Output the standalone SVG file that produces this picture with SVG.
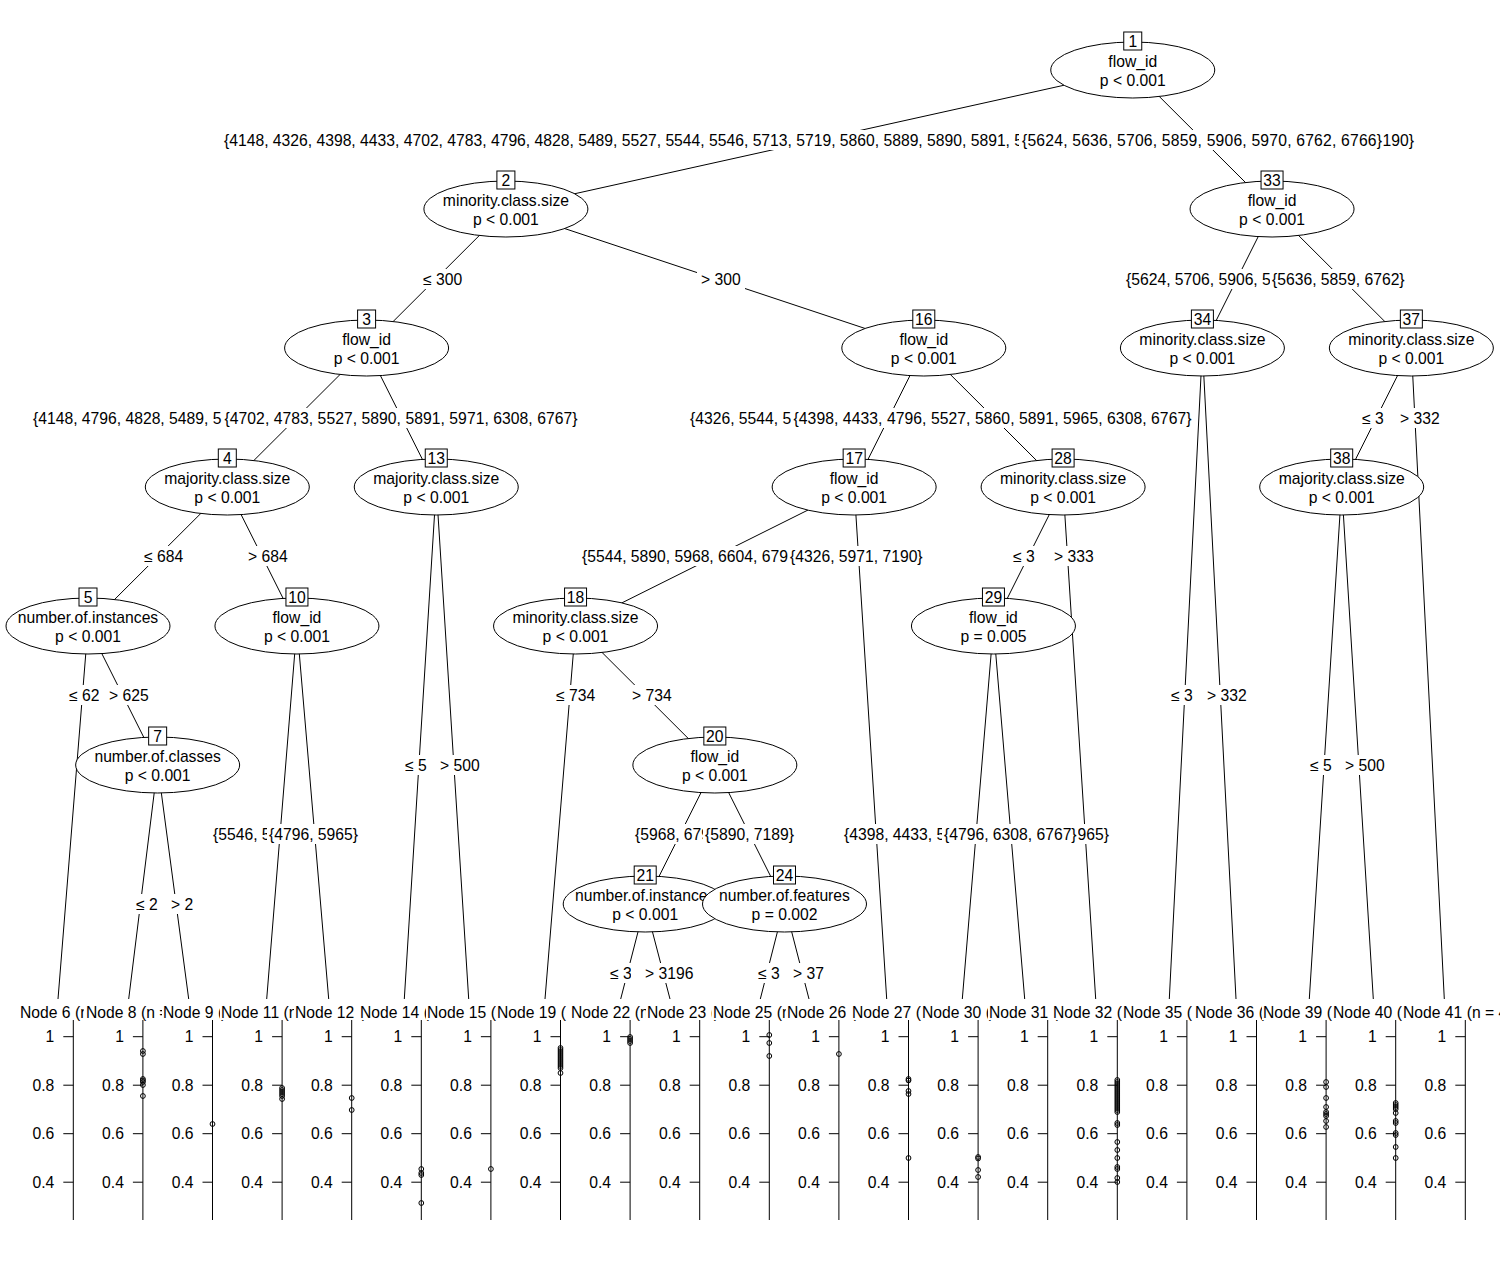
<svg xmlns="http://www.w3.org/2000/svg" width="1500" height="1269" viewBox="0 0 1500 1269">
<style>
text{font-family:"Liberation Sans",Arial,sans-serif;font-size:15.7px;fill:#000}
.m{text-anchor:middle}
.e{text-anchor:end}
#connectors line{stroke:#000;stroke-width:1}
.ax{stroke:#000;stroke-width:1;fill:none}
ellipse{fill:#fff;stroke:#000;stroke-width:1}
.nb{fill:#fff;stroke:#000;stroke-width:1}
.lb{fill:#fff;stroke:none}
.pt{fill:none;stroke:#000;stroke-width:1}
</style>
<rect width="1500" height="1269" fill="#fff"/>
<g id="connectors">
<line x1="1132.75" y1="70" x2="505.9" y2="209"/>
<line x1="1132.75" y1="70" x2="1272.05" y2="209"/>
<line x1="505.9" y1="209" x2="366.6" y2="348"/>
<line x1="505.9" y1="209" x2="923.8" y2="348"/>
<line x1="1272.05" y1="209" x2="1202.4" y2="348"/>
<line x1="1272.05" y1="209" x2="1411.35" y2="348"/>
<line x1="366.6" y1="348" x2="227.3" y2="487"/>
<line x1="366.6" y1="348" x2="436.25" y2="487"/>
<line x1="923.8" y1="348" x2="854.15" y2="487"/>
<line x1="923.8" y1="348" x2="1063.1" y2="487"/>
<line x1="1202.4" y1="348" x2="1169.3" y2="999"/>
<line x1="1202.4" y1="348" x2="1236" y2="999"/>
<line x1="1411.35" y1="348" x2="1341.7" y2="487"/>
<line x1="1411.35" y1="348" x2="1444.3" y2="999"/>
<line x1="227.3" y1="487" x2="88" y2="626"/>
<line x1="227.3" y1="487" x2="296.95" y2="626"/>
<line x1="436.25" y1="487" x2="404.3" y2="999"/>
<line x1="436.25" y1="487" x2="468.7" y2="999"/>
<line x1="854.15" y1="487" x2="575.55" y2="626"/>
<line x1="854.15" y1="487" x2="886.7" y2="999"/>
<line x1="1063.1" y1="487" x2="993.45" y2="626"/>
<line x1="1063.1" y1="487" x2="1095.7" y2="999"/>
<line x1="1341.7" y1="487" x2="1309.3" y2="999"/>
<line x1="1341.7" y1="487" x2="1373.3" y2="999"/>
<line x1="88" y1="626" x2="58" y2="999"/>
<line x1="88" y1="626" x2="157.65" y2="765"/>
<line x1="296.95" y1="626" x2="266.7" y2="999"/>
<line x1="296.95" y1="626" x2="328.7" y2="999"/>
<line x1="575.55" y1="626" x2="545" y2="999"/>
<line x1="575.55" y1="626" x2="714.85" y2="765"/>
<line x1="993.45" y1="626" x2="962.3" y2="999"/>
<line x1="993.45" y1="626" x2="1024.7" y2="999"/>
<line x1="157.65" y1="765" x2="128.7" y2="999"/>
<line x1="157.65" y1="765" x2="188.7" y2="999"/>
<line x1="714.85" y1="765" x2="645.2" y2="904"/>
<line x1="714.85" y1="765" x2="784.5" y2="904"/>
<line x1="645.2" y1="904" x2="620.7" y2="999"/>
<line x1="645.2" y1="904" x2="670" y2="999"/>
<line x1="784.5" y1="904" x2="760.3" y2="999"/>
<line x1="784.5" y1="904" x2="809" y2="999"/>
</g>
<g id="edge-labels">
<g id="e1"><rect class="lb" x="222" y="130" width="1194" height="20"/><text x="224" y="145.5">{4148, 4326, 4398, 4433, 4702, 4783, 4796, 4828, 5489, 5527, 5544, 5546, 5713, 5719, 5860, 5889, 5890, 5891, 5</text><text class="e" x="1414" y="145.5">190}</text>
<rect class="lb" x="1019" y="130" width="364" height="20"/><text class="m" x="1202" y="145.5" textLength="360">{5624, 5636, 5706, 5859, 5906, 5970, 6762, 6766}</text></g>
<g id="e2"><rect class="lb" x="419" y="269" width="47" height="20"/><text x="423" y="284.5">≤ 300</text><rect class="lb" x="697" y="269" width="48" height="20"/><text x="701" y="284.5">&gt; 300</text></g>
<g id="e3"><rect class="lb" x="31" y="408" width="193" height="20"/><text x="33" y="423.5">{4148, 4796, 4828, 5489, 5</text><rect class="lb" x="222" y="408" width="358" height="20"/><text class="m" x="401" y="423.5" textLength="353">{4702, 4783, 5527, 5890, 5891, 5971, 6308, 6767}</text></g>
<g id="e16"><rect class="lb" x="688" y="408" width="105" height="20"/><text x="690" y="423.5">{4326, 5544, 5</text><rect class="lb" x="791" y="408" width="403" height="20"/><text class="m" x="992.5" y="423.5" textLength="398">{4398, 4433, 4796, 5527, 5860, 5891, 5965, 6308, 6767}</text></g>
<g id="e33"><rect class="lb" x="1124" y="269" width="148" height="20"/><text x="1126" y="284.5">{5624, 5706, 5906, 5</text><rect class="lb" x="1270" y="269" width="140" height="20"/><text x="1272" y="284.5">{5636, 5859, 6762}</text></g>
<g id="e37"><rect class="lb" x="1358" y="408" width="28" height="20"/><text x="1362" y="423.5">≤ 3</text><rect class="lb" x="1386" y="408" width="58" height="20"/><text x="1400" y="423.5">&gt; 332</text></g>
<g id="e4"><rect class="lb" x="140" y="546" width="48" height="20"/><text x="144" y="561.5">≤ 684</text><rect class="lb" x="244" y="546" width="48" height="20"/><text x="248" y="561.5">&gt; 684</text></g>
<g id="e17"><rect class="lb" x="580" y="546" width="210" height="20"/><text x="582" y="561.5">{5544, 5890, 5968, 6604, 679</text><rect class="lb" x="788" y="546" width="139" height="20"/><text x="790" y="561.5">{4326, 5971, 7190}</text></g>
<g id="e28"><rect class="lb" x="1009" y="546" width="28" height="20"/><text x="1013" y="561.5">≤ 3</text><rect class="lb" x="1037" y="546" width="60" height="20"/><text x="1054" y="561.5">&gt; 333</text></g>
<g id="e5"><rect class="lb" x="65" y="685" width="34" height="20"/><text x="69" y="700.5">≤ 62</text><rect class="lb" x="99" y="685" width="54" height="20"/><text x="109" y="700.5">&gt; 625</text></g>
<g id="e18"><rect class="lb" x="552" y="685" width="48" height="20"/><text x="556" y="700.5">≤ 734</text><rect class="lb" x="628" y="685" width="47" height="20"/><text x="632" y="700.5">&gt; 734</text></g>
<g id="e34"><rect class="lb" x="1167" y="685" width="27" height="20"/><text x="1171" y="700.5">≤ 3</text><rect class="lb" x="1194" y="685" width="55" height="20"/><text x="1207" y="700.5">&gt; 332</text></g>
<g id="e13"><rect class="lb" x="401" y="755" width="27" height="20"/><text x="405" y="770.5">≤ 5</text><rect class="lb" x="428" y="755" width="56" height="20"/><text x="440" y="770.5">&gt; 500</text></g>
<g id="e38"><rect class="lb" x="1306" y="755" width="27" height="20"/><text x="1310" y="770.5">≤ 5</text><rect class="lb" x="1333" y="755" width="56" height="20"/><text x="1345" y="770.5">&gt; 500</text></g>
<g id="e10"><rect class="lb" x="211" y="824" width="58" height="20"/><text x="213" y="839.5">{5546, 5</text><rect class="lb" x="267" y="824" width="95" height="20"/><text x="269" y="839.5">{4796, 5965}</text></g>
<g id="e20"><rect class="lb" x="633" y="824" width="72" height="20"/><text x="635" y="839.5">{5968, 679</text><rect class="lb" x="703" y="824" width="96" height="20"/><text x="705" y="839.5">{5890, 7189}</text></g>
<g id="e29"><rect class="lb" x="842" y="824" width="269" height="20"/><text x="844" y="839.5">{4398, 4433, 5</text><text class="e" x="1109" y="839.5">965}</text><rect class="lb" x="942" y="824" width="136" height="20"/><text x="944" y="839.5">{4796, 6308, 6767}</text></g>
<g id="e7"><rect class="lb" x="132" y="894" width="30" height="20"/><text x="136" y="909.5">≤ 2</text><rect class="lb" x="162" y="894" width="35" height="20"/><text x="171" y="909.5">&gt; 2</text></g>
<g id="e21"><rect class="lb" x="606" y="963" width="25" height="20"/><text x="610" y="978.5">≤ 3</text><rect class="lb" x="631" y="963" width="66" height="20"/><text x="645" y="978.5">&gt; 3196</text></g>
<g id="e24"><rect class="lb" x="754" y="963" width="26" height="20"/><text x="758" y="978.5">≤ 3</text><rect class="lb" x="780" y="963" width="46" height="20"/><text x="793" y="978.5">&gt; 37</text></g>
</g>
<g id="nodes">
<g id="n1"><ellipse cx="1132.75" cy="70" rx="82" ry="28"/><rect class="nb" x="1123.75" y="32" width="18" height="18"/><text class="m" x="1132.75" y="46.5">1</text><text class="m" x="1132.75" y="66.5">flow_id</text><text class="m" x="1132.75" y="85.5">p &lt; 0.001</text></g>
<g id="n2"><ellipse cx="505.9" cy="209" rx="82" ry="28"/><rect class="nb" x="496.9" y="171" width="18" height="18"/><text class="m" x="505.9" y="185.5">2</text><text class="m" x="505.9" y="205.5">minority.class.size</text><text class="m" x="505.9" y="224.5">p &lt; 0.001</text></g>
<g id="n3"><ellipse cx="366.6" cy="348" rx="82" ry="28"/><rect class="nb" x="357.6" y="310" width="18" height="18"/><text class="m" x="366.6" y="324.5">3</text><text class="m" x="366.6" y="344.5">flow_id</text><text class="m" x="366.6" y="363.5">p &lt; 0.001</text></g>
<g id="n4"><ellipse cx="227.3" cy="487" rx="82" ry="28"/><rect class="nb" x="218.3" y="449" width="18" height="18"/><text class="m" x="227.3" y="463.5">4</text><text class="m" x="227.3" y="483.5">majority.class.size</text><text class="m" x="227.3" y="502.5">p &lt; 0.001</text></g>
<g id="n5"><ellipse cx="88" cy="626" rx="82" ry="28"/><rect class="nb" x="79" y="588" width="18" height="18"/><text class="m" x="88" y="602.5">5</text><text class="m" x="88" y="622.5">number.of.instances</text><text class="m" x="88" y="641.5">p &lt; 0.001</text></g>
<g id="n7"><ellipse cx="157.65" cy="765" rx="82" ry="28"/><rect class="nb" x="148.65" y="727" width="18" height="18"/><text class="m" x="157.65" y="741.5">7</text><text class="m" x="157.65" y="761.5">number.of.classes</text><text class="m" x="157.65" y="780.5">p &lt; 0.001</text></g>
<g id="n10"><ellipse cx="296.95" cy="626" rx="82" ry="28"/><rect class="nb" x="285.95" y="588" width="22" height="18"/><text class="m" x="296.95" y="602.5">10</text><text class="m" x="296.95" y="622.5">flow_id</text><text class="m" x="296.95" y="641.5">p &lt; 0.001</text></g>
<g id="n13"><ellipse cx="436.25" cy="487" rx="82" ry="28"/><rect class="nb" x="425.25" y="449" width="22" height="18"/><text class="m" x="436.25" y="463.5">13</text><text class="m" x="436.25" y="483.5">majority.class.size</text><text class="m" x="436.25" y="502.5">p &lt; 0.001</text></g>
<g id="n16"><ellipse cx="923.8" cy="348" rx="82" ry="28"/><rect class="nb" x="912.8" y="310" width="22" height="18"/><text class="m" x="923.8" y="324.5">16</text><text class="m" x="923.8" y="344.5">flow_id</text><text class="m" x="923.8" y="363.5">p &lt; 0.001</text></g>
<g id="n17"><ellipse cx="854.15" cy="487" rx="82" ry="28"/><rect class="nb" x="843.15" y="449" width="22" height="18"/><text class="m" x="854.15" y="463.5">17</text><text class="m" x="854.15" y="483.5">flow_id</text><text class="m" x="854.15" y="502.5">p &lt; 0.001</text></g>
<g id="n18"><ellipse cx="575.55" cy="626" rx="82" ry="28"/><rect class="nb" x="564.55" y="588" width="22" height="18"/><text class="m" x="575.55" y="602.5">18</text><text class="m" x="575.55" y="622.5">minority.class.size</text><text class="m" x="575.55" y="641.5">p &lt; 0.001</text></g>
<g id="n20"><ellipse cx="714.85" cy="765" rx="82" ry="28"/><rect class="nb" x="703.85" y="727" width="22" height="18"/><text class="m" x="714.85" y="741.5">20</text><text class="m" x="714.85" y="761.5">flow_id</text><text class="m" x="714.85" y="780.5">p &lt; 0.001</text></g>
<g id="n21"><ellipse cx="645.2" cy="904" rx="82" ry="28"/><rect class="nb" x="634.2" y="866" width="22" height="18"/><text class="m" x="645.2" y="880.5">21</text><text x="575" y="900.5">number.of.instance</text><text class="m" x="645.2" y="919.5">p &lt; 0.001</text></g>
<g id="n24"><ellipse cx="784.5" cy="904" rx="82" ry="28"/><rect class="nb" x="773.5" y="866" width="22" height="18"/><text class="m" x="784.5" y="880.5">24</text><text class="m" x="784.5" y="900.5">number.of.features</text><text class="m" x="784.5" y="919.5">p = 0.002</text></g>
<g id="n28"><ellipse cx="1063.1" cy="487" rx="82" ry="28"/><rect class="nb" x="1052.1" y="449" width="22" height="18"/><text class="m" x="1063.1" y="463.5">28</text><text class="m" x="1063.1" y="483.5">minority.class.size</text><text class="m" x="1063.1" y="502.5">p &lt; 0.001</text></g>
<g id="n29"><ellipse cx="993.45" cy="626" rx="82" ry="28"/><rect class="nb" x="982.45" y="588" width="22" height="18"/><text class="m" x="993.45" y="602.5">29</text><text class="m" x="993.45" y="622.5">flow_id</text><text class="m" x="993.45" y="641.5">p = 0.005</text></g>
<g id="n33"><ellipse cx="1272.05" cy="209" rx="82" ry="28"/><rect class="nb" x="1261.05" y="171" width="22" height="18"/><text class="m" x="1272.05" y="185.5">33</text><text class="m" x="1272.05" y="205.5">flow_id</text><text class="m" x="1272.05" y="224.5">p &lt; 0.001</text></g>
<g id="n34"><ellipse cx="1202.4" cy="348" rx="82" ry="28"/><rect class="nb" x="1191.4" y="310" width="22" height="18"/><text class="m" x="1202.4" y="324.5">34</text><text class="m" x="1202.4" y="344.5">minority.class.size</text><text class="m" x="1202.4" y="363.5">p &lt; 0.001</text></g>
<g id="n37"><ellipse cx="1411.35" cy="348" rx="82" ry="28"/><rect class="nb" x="1400.35" y="310" width="22" height="18"/><text class="m" x="1411.35" y="324.5">37</text><text class="m" x="1411.35" y="344.5">minority.class.size</text><text class="m" x="1411.35" y="363.5">p &lt; 0.001</text></g>
<g id="n38"><ellipse cx="1341.7" cy="487" rx="82" ry="28"/><rect class="nb" x="1330.7" y="449" width="22" height="18"/><text class="m" x="1341.7" y="463.5">38</text><text class="m" x="1341.7" y="483.5">majority.class.size</text><text class="m" x="1341.7" y="502.5">p &lt; 0.001</text></g>
</g>
<g id="terminals">
<g id="t6"><rect class="lb" x="19" y="1002" width="140" height="18"/><text x="20" y="1017.5">Node 6 (n</text><path class="ax" d="M73.3 1020V1220M63.3 1036.7H73.3M63.3 1085.2H73.3M63.3 1133.7H73.3M63.3 1182.2H73.3"/><text class="e" x="54.3" y="1042.3">1</text><text class="e" x="54.3" y="1090.8">0.8</text><text class="e" x="54.3" y="1139.3">0.6</text><text class="e" x="54.3" y="1187.8">0.4</text></g>
<g id="t8"><rect class="lb" x="84" y="1002" width="140" height="18"/><text x="86" y="1017.5">Node 8 (n =</text><path class="ax" d="M142.9 1020V1220M132.9 1036.7H142.9M132.9 1085.2H142.9M132.9 1133.7H142.9M132.9 1182.2H142.9"/><text class="e" x="123.9" y="1042.3">1</text><text class="e" x="123.9" y="1090.8">0.8</text><text class="e" x="123.9" y="1139.3">0.6</text><text class="e" x="123.9" y="1187.8">0.4</text>
<circle class="pt" cx="142.9" cy="1051" r="2.4"/><circle class="pt" cx="142.9" cy="1054" r="2.4"/><circle class="pt" cx="142.9" cy="1079" r="2.4"/><circle class="pt" cx="142.9" cy="1080.5" r="2.4"/><circle class="pt" cx="142.9" cy="1082" r="2.4"/><circle class="pt" cx="142.9" cy="1085" r="2.4"/><circle class="pt" cx="142.9" cy="1096" r="2.4"/></g>
<g id="t9"><rect class="lb" x="162" y="1002" width="140" height="18"/><text x="163" y="1017.5">Node 9 (</text><path class="ax" d="M212.5 1020V1220M202.5 1036.7H212.5M202.5 1085.2H212.5M202.5 1133.7H212.5M202.5 1182.2H212.5"/><text class="e" x="193.5" y="1042.3">1</text><text class="e" x="193.5" y="1090.8">0.8</text><text class="e" x="193.5" y="1139.3">0.6</text><text class="e" x="193.5" y="1187.8">0.4</text>
<circle class="pt" cx="212.5" cy="1124" r="2.4"/></g>
<g id="t11"><rect class="lb" x="220" y="1002" width="140" height="18"/><text x="221" y="1017.5">Node 11 (n</text><path class="ax" d="M282.1 1020V1220M272.1 1036.7H282.1M272.1 1085.2H282.1M272.1 1133.7H282.1M272.1 1182.2H282.1"/><text class="e" x="263.1" y="1042.3">1</text><text class="e" x="263.1" y="1090.8">0.8</text><text class="e" x="263.1" y="1139.3">0.6</text><text class="e" x="263.1" y="1187.8">0.4</text>
<circle class="pt" cx="282.1" cy="1088" r="2.4"/><circle class="pt" cx="282.1" cy="1090" r="2.4"/><circle class="pt" cx="282.1" cy="1092" r="2.4"/><circle class="pt" cx="282.1" cy="1094" r="2.4"/><circle class="pt" cx="282.1" cy="1096" r="2.4"/><circle class="pt" cx="282.1" cy="1099" r="2.4"/></g>
<g id="t12"><rect class="lb" x="294" y="1002" width="140" height="18"/><text x="295" y="1017.5">Node 12 (</text><path class="ax" d="M351.7 1020V1220M341.7 1036.7H351.7M341.7 1085.2H351.7M341.7 1133.7H351.7M341.7 1182.2H351.7"/><text class="e" x="332.7" y="1042.3">1</text><text class="e" x="332.7" y="1090.8">0.8</text><text class="e" x="332.7" y="1139.3">0.6</text><text class="e" x="332.7" y="1187.8">0.4</text>
<circle class="pt" cx="351.7" cy="1098" r="2.4"/><circle class="pt" cx="351.7" cy="1110" r="2.4"/></g>
<g id="t14"><rect class="lb" x="359" y="1002" width="140" height="18"/><text x="360" y="1017.5">Node 14 (</text><path class="ax" d="M421.3 1020V1220M411.3 1036.7H421.3M411.3 1085.2H421.3M411.3 1133.7H421.3M411.3 1182.2H421.3"/><text class="e" x="402.3" y="1042.3">1</text><text class="e" x="402.3" y="1090.8">0.8</text><text class="e" x="402.3" y="1139.3">0.6</text><text class="e" x="402.3" y="1187.8">0.4</text>
<circle class="pt" cx="421.3" cy="1169" r="2.4"/><circle class="pt" cx="421.3" cy="1173" r="2.4"/><circle class="pt" cx="421.3" cy="1175" r="2.4"/><circle class="pt" cx="421.3" cy="1203" r="2.4"/></g>
<g id="t15"><rect class="lb" x="426" y="1002" width="140" height="18"/><text x="427" y="1017.5">Node 15 (n</text><path class="ax" d="M490.9 1020V1220M480.9 1036.7H490.9M480.9 1085.2H490.9M480.9 1133.7H490.9M480.9 1182.2H490.9"/><text class="e" x="471.9" y="1042.3">1</text><text class="e" x="471.9" y="1090.8">0.8</text><text class="e" x="471.9" y="1139.3">0.6</text><text class="e" x="471.9" y="1187.8">0.4</text>
<circle class="pt" cx="490.9" cy="1169" r="2.4"/></g>
<g id="t19"><rect class="lb" x="496" y="1002" width="140" height="18"/><text x="497" y="1017.5">Node 19 (</text><path class="ax" d="M560.5 1020V1220M550.5 1036.7H560.5M550.5 1085.2H560.5M550.5 1133.7H560.5M550.5 1182.2H560.5"/><text class="e" x="541.5" y="1042.3">1</text><text class="e" x="541.5" y="1090.8">0.8</text><text class="e" x="541.5" y="1139.3">0.6</text><text class="e" x="541.5" y="1187.8">0.4</text>
<circle class="pt" cx="560.5" cy="1048" r="2.4"/><circle class="pt" cx="560.5" cy="1050" r="2.4"/><circle class="pt" cx="560.5" cy="1052" r="2.4"/><circle class="pt" cx="560.5" cy="1054" r="2.4"/><circle class="pt" cx="560.5" cy="1056" r="2.4"/><circle class="pt" cx="560.5" cy="1058" r="2.4"/><circle class="pt" cx="560.5" cy="1060" r="2.4"/><circle class="pt" cx="560.5" cy="1062" r="2.4"/><circle class="pt" cx="560.5" cy="1064" r="2.4"/><circle class="pt" cx="560.5" cy="1066" r="2.4"/><circle class="pt" cx="560.5" cy="1068" r="2.4"/><circle class="pt" cx="560.5" cy="1073" r="2.4"/></g>
<g id="t22"><rect class="lb" x="570" y="1002" width="140" height="18"/><text x="571" y="1017.5">Node 22 (n</text><path class="ax" d="M630.1 1020V1220M620.1 1036.7H630.1M620.1 1085.2H630.1M620.1 1133.7H630.1M620.1 1182.2H630.1"/><text class="e" x="611.1" y="1042.3">1</text><text class="e" x="611.1" y="1090.8">0.8</text><text class="e" x="611.1" y="1139.3">0.6</text><text class="e" x="611.1" y="1187.8">0.4</text>
<circle class="pt" cx="630.1" cy="1037" r="2.4"/><circle class="pt" cx="630.1" cy="1039" r="2.4"/><circle class="pt" cx="630.1" cy="1041" r="2.4"/><circle class="pt" cx="630.1" cy="1043" r="2.4"/></g>
<g id="t23"><rect class="lb" x="646" y="1002" width="140" height="18"/><text x="647" y="1017.5">Node 23 (</text><path class="ax" d="M699.7 1020V1220M689.7 1036.7H699.7M689.7 1085.2H699.7M689.7 1133.7H699.7M689.7 1182.2H699.7"/><text class="e" x="680.7" y="1042.3">1</text><text class="e" x="680.7" y="1090.8">0.8</text><text class="e" x="680.7" y="1139.3">0.6</text><text class="e" x="680.7" y="1187.8">0.4</text></g>
<g id="t25"><rect class="lb" x="712" y="1002" width="140" height="18"/><text x="713" y="1017.5">Node 25 (n</text><path class="ax" d="M769.3 1020V1220M759.3 1036.7H769.3M759.3 1085.2H769.3M759.3 1133.7H769.3M759.3 1182.2H769.3"/><text class="e" x="750.3" y="1042.3">1</text><text class="e" x="750.3" y="1090.8">0.8</text><text class="e" x="750.3" y="1139.3">0.6</text><text class="e" x="750.3" y="1187.8">0.4</text>
<circle class="pt" cx="769.3" cy="1035" r="2.4"/><circle class="pt" cx="769.3" cy="1043" r="2.4"/><circle class="pt" cx="769.3" cy="1056" r="2.4"/></g>
<g id="t26"><rect class="lb" x="786" y="1002" width="140" height="18"/><text x="787" y="1017.5">Node 26 (</text><path class="ax" d="M838.9 1020V1220M828.9 1036.7H838.9M828.9 1085.2H838.9M828.9 1133.7H838.9M828.9 1182.2H838.9"/><text class="e" x="819.9" y="1042.3">1</text><text class="e" x="819.9" y="1090.8">0.8</text><text class="e" x="819.9" y="1139.3">0.6</text><text class="e" x="819.9" y="1187.8">0.4</text>
<circle class="pt" cx="838.9" cy="1054" r="2.4"/></g>
<g id="t27"><rect class="lb" x="851" y="1002" width="140" height="18"/><text x="852" y="1017.5">Node 27 (</text><path class="ax" d="M908.5 1020V1220M898.5 1036.7H908.5M898.5 1085.2H908.5M898.5 1133.7H908.5M898.5 1182.2H908.5"/><text class="e" x="889.5" y="1042.3">1</text><text class="e" x="889.5" y="1090.8">0.8</text><text class="e" x="889.5" y="1139.3">0.6</text><text class="e" x="889.5" y="1187.8">0.4</text>
<circle class="pt" cx="908.5" cy="1079" r="2.4"/><circle class="pt" cx="908.5" cy="1080.5" r="2.4"/><circle class="pt" cx="908.5" cy="1091" r="2.4"/><circle class="pt" cx="908.5" cy="1094" r="2.4"/><circle class="pt" cx="908.5" cy="1158" r="2.4"/></g>
<g id="t30"><rect class="lb" x="921" y="1002" width="140" height="18"/><text x="922" y="1017.5">Node 30 (</text><path class="ax" d="M978.1 1020V1220M968.1 1036.7H978.1M968.1 1085.2H978.1M968.1 1133.7H978.1M968.1 1182.2H978.1"/><text class="e" x="959.1" y="1042.3">1</text><text class="e" x="959.1" y="1090.8">0.8</text><text class="e" x="959.1" y="1139.3">0.6</text><text class="e" x="959.1" y="1187.8">0.4</text>
<circle class="pt" cx="978.1" cy="1157" r="2.4"/><circle class="pt" cx="978.1" cy="1158.5" r="2.4"/><circle class="pt" cx="978.1" cy="1170" r="2.4"/><circle class="pt" cx="978.1" cy="1177" r="2.4"/></g>
<g id="t31"><rect class="lb" x="988" y="1002" width="140" height="18"/><text x="989" y="1017.5">Node 31 (</text><path class="ax" d="M1047.7 1020V1220M1037.7 1036.7H1047.7M1037.7 1085.2H1047.7M1037.7 1133.7H1047.7M1037.7 1182.2H1047.7"/><text class="e" x="1028.7" y="1042.3">1</text><text class="e" x="1028.7" y="1090.8">0.8</text><text class="e" x="1028.7" y="1139.3">0.6</text><text class="e" x="1028.7" y="1187.8">0.4</text></g>
<g id="t32"><rect class="lb" x="1052" y="1002" width="140" height="18"/><text x="1053" y="1017.5">Node 32 (</text><path class="ax" d="M1117.3 1020V1220M1107.3 1036.7H1117.3M1107.3 1085.2H1117.3M1107.3 1133.7H1117.3M1107.3 1182.2H1117.3"/><text class="e" x="1098.3" y="1042.3">1</text><text class="e" x="1098.3" y="1090.8">0.8</text><text class="e" x="1098.3" y="1139.3">0.6</text><text class="e" x="1098.3" y="1187.8">0.4</text>
<circle class="pt" cx="1117.3" cy="1080" r="2.4"/><circle class="pt" cx="1117.3" cy="1082" r="2.4"/><circle class="pt" cx="1117.3" cy="1084" r="2.4"/><circle class="pt" cx="1117.3" cy="1086" r="2.4"/><circle class="pt" cx="1117.3" cy="1088" r="2.4"/><circle class="pt" cx="1117.3" cy="1090" r="2.4"/><circle class="pt" cx="1117.3" cy="1092" r="2.4"/><circle class="pt" cx="1117.3" cy="1094" r="2.4"/><circle class="pt" cx="1117.3" cy="1096" r="2.4"/><circle class="pt" cx="1117.3" cy="1098" r="2.4"/><circle class="pt" cx="1117.3" cy="1100" r="2.4"/><circle class="pt" cx="1117.3" cy="1102" r="2.4"/><circle class="pt" cx="1117.3" cy="1104" r="2.4"/><circle class="pt" cx="1117.3" cy="1106" r="2.4"/><circle class="pt" cx="1117.3" cy="1108" r="2.4"/><circle class="pt" cx="1117.3" cy="1110" r="2.4"/><circle class="pt" cx="1117.3" cy="1112" r="2.4"/><circle class="pt" cx="1117.3" cy="1123" r="2.4"/><circle class="pt" cx="1117.3" cy="1125" r="2.4"/><circle class="pt" cx="1117.3" cy="1142" r="2.4"/><circle class="pt" cx="1117.3" cy="1150" r="2.4"/><circle class="pt" cx="1117.3" cy="1158" r="2.4"/><circle class="pt" cx="1117.3" cy="1167" r="2.4"/><circle class="pt" cx="1117.3" cy="1169" r="2.4"/><circle class="pt" cx="1117.3" cy="1178" r="2.4"/><circle class="pt" cx="1117.3" cy="1182" r="2.4"/></g>
<g id="t35"><rect class="lb" x="1122" y="1002" width="140" height="18"/><text x="1123" y="1017.5">Node 35 (</text><path class="ax" d="M1186.9 1020V1220M1176.9 1036.7H1186.9M1176.9 1085.2H1186.9M1176.9 1133.7H1186.9M1176.9 1182.2H1186.9"/><text class="e" x="1167.9" y="1042.3">1</text><text class="e" x="1167.9" y="1090.8">0.8</text><text class="e" x="1167.9" y="1139.3">0.6</text><text class="e" x="1167.9" y="1187.8">0.4</text></g>
<g id="t36"><rect class="lb" x="1194" y="1002" width="140" height="18"/><text x="1195" y="1017.5">Node 36 (</text><path class="ax" d="M1256.5 1020V1220M1246.5 1036.7H1256.5M1246.5 1085.2H1256.5M1246.5 1133.7H1256.5M1246.5 1182.2H1256.5"/><text class="e" x="1237.5" y="1042.3">1</text><text class="e" x="1237.5" y="1090.8">0.8</text><text class="e" x="1237.5" y="1139.3">0.6</text><text class="e" x="1237.5" y="1187.8">0.4</text></g>
<g id="t39"><rect class="lb" x="1262" y="1002" width="140" height="18"/><text x="1263" y="1017.5">Node 39 (</text><path class="ax" d="M1326.1 1020V1220M1316.1 1036.7H1326.1M1316.1 1085.2H1326.1M1316.1 1133.7H1326.1M1316.1 1182.2H1326.1"/><text class="e" x="1307.1" y="1042.3">1</text><text class="e" x="1307.1" y="1090.8">0.8</text><text class="e" x="1307.1" y="1139.3">0.6</text><text class="e" x="1307.1" y="1187.8">0.4</text>
<circle class="pt" cx="1326.1" cy="1082" r="2.4"/><circle class="pt" cx="1326.1" cy="1087" r="2.4"/><circle class="pt" cx="1326.1" cy="1098" r="2.4"/><circle class="pt" cx="1326.1" cy="1107" r="2.4"/><circle class="pt" cx="1326.1" cy="1112" r="2.4"/><circle class="pt" cx="1326.1" cy="1114" r="2.4"/><circle class="pt" cx="1326.1" cy="1116" r="2.4"/><circle class="pt" cx="1326.1" cy="1121" r="2.4"/><circle class="pt" cx="1326.1" cy="1127" r="2.4"/></g>
<g id="t40"><rect class="lb" x="1332" y="1002" width="140" height="18"/><text x="1333" y="1017.5">Node 40 (</text><path class="ax" d="M1395.7 1020V1220M1385.7 1036.7H1395.7M1385.7 1085.2H1395.7M1385.7 1133.7H1395.7M1385.7 1182.2H1395.7"/><text class="e" x="1376.7" y="1042.3">1</text><text class="e" x="1376.7" y="1090.8">0.8</text><text class="e" x="1376.7" y="1139.3">0.6</text><text class="e" x="1376.7" y="1187.8">0.4</text>
<circle class="pt" cx="1395.7" cy="1103" r="2.4"/><circle class="pt" cx="1395.7" cy="1105" r="2.4"/><circle class="pt" cx="1395.7" cy="1107" r="2.4"/><circle class="pt" cx="1395.7" cy="1109" r="2.4"/><circle class="pt" cx="1395.7" cy="1113" r="2.4"/><circle class="pt" cx="1395.7" cy="1121" r="2.4"/><circle class="pt" cx="1395.7" cy="1123" r="2.4"/><circle class="pt" cx="1395.7" cy="1133" r="2.4"/><circle class="pt" cx="1395.7" cy="1135" r="2.4"/><circle class="pt" cx="1395.7" cy="1147" r="2.4"/><circle class="pt" cx="1395.7" cy="1158" r="2.4"/></g>
<g id="t41"><rect class="lb" x="1402" y="1002" width="140" height="18"/><text x="1403" y="1017.5">Node 41 (n = 4</text><path class="ax" d="M1465.3 1020V1220M1455.3 1036.7H1465.3M1455.3 1085.2H1465.3M1455.3 1133.7H1465.3M1455.3 1182.2H1465.3"/><text class="e" x="1446.3" y="1042.3">1</text><text class="e" x="1446.3" y="1090.8">0.8</text><text class="e" x="1446.3" y="1139.3">0.6</text><text class="e" x="1446.3" y="1187.8">0.4</text></g>
</g>
</svg>
